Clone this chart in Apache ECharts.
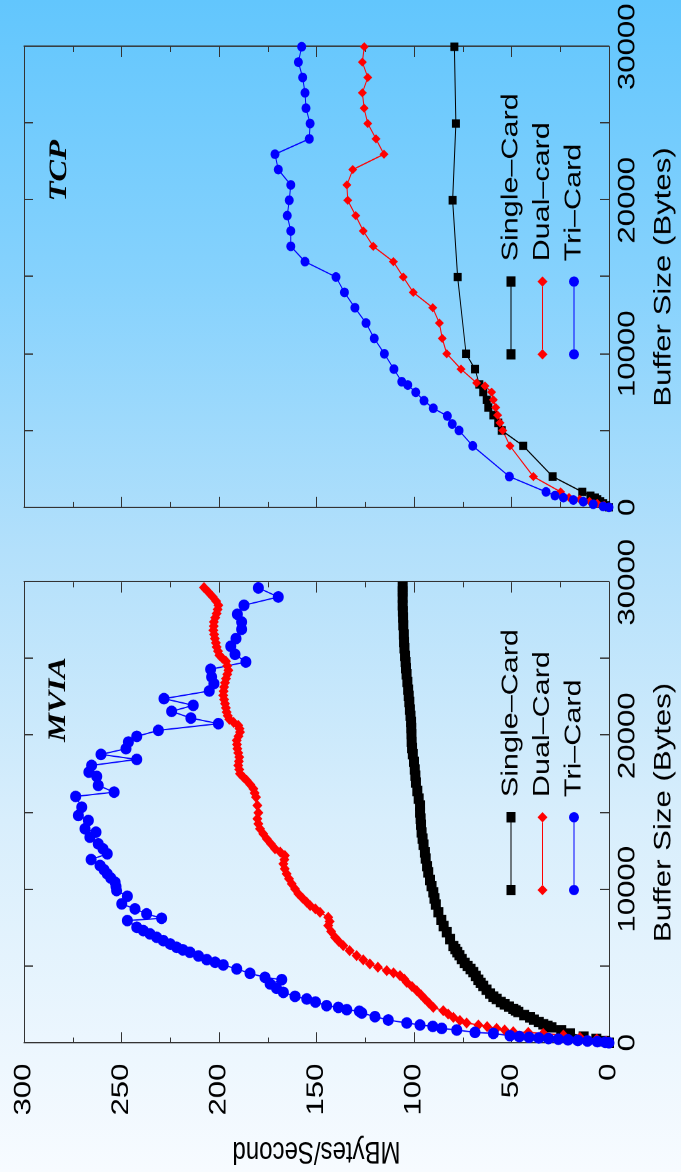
<!DOCTYPE html>
<html>
<head>
<meta charset="utf-8">
<script src="https://cdn.jsdelivr.net/npm/echarts@6.0.0/dist/echarts.min.js"></script>
<style>
html,body{margin:0;padding:0;}
body{width:681px;height:1172px;overflow:hidden;position:relative;
  background:linear-gradient(to bottom,#62c6fd 0%,#86d2fd 24%,#b3e0fb 47%,#d8eefc 70%,#f7fbff 100%);}
#chart{position:absolute;left:0;top:0;width:902px;height:681px;transform-origin:0 0;
  transform:translate(0px,1172px) rotate(-90deg) scaleX(1.299335);}
</style>
</head>
<body>
<div id="chart"></div>
<script>
// ---------------- data (Buffer Size in bytes, MBytes/Second) ----------------
const bufferTicks = [0, 10000, 20000, 30000];
const rateTicks = [0, 50, 100, 150, 200, 250, 300];

// MVIA
const mviaSingleBuf = [0,100,250,400,600,800,1000,1100,1200,1350,1500,1650,1800,2000,2100,2200,2350,2500,2650,2850,3000,3200,3450,3700,3900,4100,4350,4600,4800,5000,5200,5450,5700,5900,6100,6300,6750,7200,7600,8000,8500,9000,9400,9800,10200,10600,11100,11500,12000,12400,12900,13300,13700,14200,14600,15000,15450,15900,16400,16950,17400,17800,18300,18800,19200,19600,20100,20500,20900,21300,21700,22200,22600,23000,23500,24000,24400,24800,25200,25700,26100,26600,27200,27700,28100,28500,29000,29400,29700];
const mviaSingleRate = [0,2,6.5,13,20,24.5,29.5,31.5,33.7,36,38.5,40.5,43.5,46.5,47.8,49.1,51.3,53.5,55.5,57.6,59.3,61,62.8,64.5,65.8,67,68.3,69.6,71,72.5,74,75.5,76.7,77.8,78.8,79.8,81.5,83.2,84.8,86,87.5,88.8,89.5,90.1,91,91.8,92.7,93.3,94,94.4,95.1,95.6,96.1,96.4,96.6,96.9,96.9,97.6,98.3,99,99.3,99.6,100,100.6,101,101.2,101.3,101.4,101.5,101.8,102.1,102.4,102.7,103,103.4,103.8,104.1,104.3,104.6,104.9,105.1,105.2,105.5,105.6,105.7,105.8,105.8,105.8,105.8];

const mviaDualBuf = [0,100,240,350,500,607,672,717,830,933,1050,1154,1285,1450,1650,1870,2087,2302,2580,2850,3120,3391,3660,3933,4150,4370,4550,4696,4920,5133,5400,5674,6000,6326,6600,6868,7250,7631,7900,8172,8498,8720,8935,9150,9420,9698,10020,10350,10680,11001,11330,11654,11930,12196,12420,12633,12960,13285,13610,13937,14260,14590,14981,15457,15998,16270,16546,16820,17088,17300,17524,17800,18066,18330,18607,18880,19155,19430,19696,19970,20237,20460,20675,20870,21066,21300,21541,21815,22090,22360,22631,22900,23173,23450,23720,24000,24262,24550,24849,25040,25240,25510,25782,26050,26330,26600,26870,27140,27413,27690,27960,28230,28500,28770,29045,29350,29655];
const mviaDualRate = [0,1.5,6.3,14.9,23.4,33.7,41.4,49.1,53.5,57.6,62.5,67,73,76.5,79.8,82.5,85,90.1,92.3,94.4,96.4,98.6,101,103.7,105,107.2,110.5,114,118.5,122.6,126,129.4,133,136.3,138.6,140.5,142.5,144,143.3,144,148.2,150.6,153.3,155,157.2,159.3,161,162.7,164.1,165.3,166.3,167,166.5,166.2,168.6,171.3,173.4,175.5,177.3,179,179.8,180.3,179.8,180.3,181,181.7,182.4,184,185.8,187.5,189.2,189.6,190.1,189.8,189.6,190.1,190.6,190.8,190.9,190,189.2,189.5,190.1,192.5,194.7,195.5,196.1,196.5,196.9,197.4,197.8,197.6,197.4,196.9,196.4,195.8,195.2,195.8,196.4,198.2,199.8,200.5,201.2,201.6,202.1,202.5,202.9,202.7,202.6,201.9,201.2,200.7,200.3,201.5,203.2,205.4,207.7];

const mviaTriBuf = [0,30,70,110,150,190,230,270,310,350,400,457,607,672,828,933,1063,1154,1285,1480,1696,1937,2050,2152,2302,2413,2650,2850,3020,3280,3550,3828,4109,4259,4520,4807,5067,5240,5413,5650,5889,6050,6215,6430,6652,6870,7090,7300,7520,7957,8107,8394,8720,9046,9542,9913,10180,10455,10730,11001,11270,11544,11935,12305,12630,12957,13390,13716,13937,14479,14805,15346,16044,16325,16762,17349,17629,18066,18457,18783,19155,19586,19957,20349,20786,21150,21588,21980,22416,22913,23393,23826,24327,24804,25305,25827,26330,26935,27410,27915,28500,29040,29630];
const mviaTriRate = [0,2,6,11,16,21,26,31,36,41,46,50.8,59.3,68.7,78.1,85.8,90.4,96.9,103.7,113.2,120,126.8,128,134.5,138.8,144.8,150.5,155,161,167,170.5,173.8,167.8,176.4,184.1,190.9,197.8,202,206.3,210.5,214.9,218.5,221.7,225,228.6,232,235.4,238.8,242.2,247,229.4,237.1,243.1,249.9,247,252.5,252.8,253.3,255.5,257.3,259,261,265.6,257.3,259.5,261.9,266.2,263.1,268.7,267,272.1,270.4,273.5,253.8,261.9,262.7,266.7,265.3,242.2,260.5,247.7,246.5,242.2,231.1,200.3,214.4,224.3,213.2,228.2,205,202.6,203.8,204.3,186.2,191.8,194,191.3,188.4,188.4,190.6,187.2,169.6,179.8];

// TCP
const tcpSingleBuf = [0,128,256,384,512,625,750,1000,2000,4000,5000,5500,6000,6500,7000,7500,8000,9000,10000,15000,20000,25000,30000];
const tcpSingleRate = [0,1.5,3,4.5,6,7.2,9.5,13.7,28.9,44,55,56.8,59.3,61.9,62.7,64.5,66.5,68.7,73.3,77.6,80.2,78.5,79.3];

const tcpDualBuf = [0,128,256,384,512,640,1000,2000,4000,5000,5500,6000,6500,7000,7500,7900,8100,9000,10000,11000,12000,13000,14000,15000,16000,17000,18000,19000,20000,21000,22000,23000,24000,25000,26000,27000,28000,29000,30000];
const tcpDualRate = [0,2.5,6,10,15,20.5,24.8,38.8,50.8,54.5,55.9,57.1,58.1,59.3,60.2,63.6,67.9,75.9,83.2,85.5,87,90.4,100.4,105.5,110.6,120.9,126,129.9,134,134.4,131.4,115.4,119.5,123.7,125.6,126.5,123.7,126.5,125.5];

const tcpTriBuf = [0,50,195,365,475,625,755,1000,2000,4000,5000,5425,5946,6448,6943,7490,7965,8180,9000,10000,11000,12000,13000,14000,15000,16000,17000,18000,19000,20000,21000,22000,23000,24000,25000,26000,27000,28000,29000,30000];
const tcpTriRate = [0,3,8.1,13.2,18.3,23.4,27.7,32.3,51.1,69.9,76.9,80.4,82.9,90.1,94.9,99.1,103.2,106.3,110.3,115.2,120.4,124.6,130.3,135.7,140,155.9,163.2,163.2,165,164,163.2,169.6,171.3,153.7,153.3,155.4,155.9,157.1,159.3,157.6];

const mviaNames = ['Single\u2013Card', 'Dual\u2013Card', 'Tri\u2013Card'];
const tcpNames = ['Single\u2013Card', 'Dual\u2013card', 'Tri\u2013Card'];
const panelTitles = ['MVIA', 'TCP'];

// ---------------- chart ----------------
const SANS = "'Liberation Sans', Arial, Helvetica, sans-serif";
const SERIF = "'Liberation Serif', 'Times New Roman', serif";
const FRAME = '#333';

function pairs(b, r) { return b.map((x, i) => [x, r[i]]); }

const SQ = 'path://M0,0h8v9h-8zM8,4h48v1h-48zM56,0h8v9h-8z';
const DI = 'path://M4,0L8,5L4,10L0,5zM8,4.5h48v1h-48zM60,0L64,5L60,10L56,5z';
const CI = 'path://M0,5A4,5,0,1,1,8,5A4,5,0,1,1,0,5zM8,4.5h48v1h-48zM56,5A4,5,0,1,1,64,5A4,5,0,1,1,56,5z';
const icons = [SQ, DI, CI];

function bufAxis(gi, pos, labels) {
  return {
    type: 'value', gridIndex: gi, position: pos, min: 0, max: 30000, interval: 5000,
    axisLine: { show: true, onZero: false, lineStyle: { color: FRAME, width: 1 } },
    axisTick: { show: true, inside: true, length: 9, lineStyle: { color: FRAME, width: 1 } },
    splitLine: { show: false },
    axisLabel: labels ? {
      show: true, margin: 7, color: '#000', fontFamily: SANS, fontSize: 24,
      showMinLabel: true, showMaxLabel: true,
      formatter: v => (bufferTicks.indexOf(v) >= 0 ? String(v) : '')
    } : { show: false },
    name: labels ? 'Buffer Size (Bytes)' : '',
    nameLocation: 'middle', nameGap: 43,
    nameTextStyle: { color: '#000', fontFamily: SANS, fontSize: 24 }
  };
}
function rateAxis(gi, pos, labels, withName) {
  return {
    type: 'value', gridIndex: gi, position: pos, min: 0, max: 300, interval: 50,
    axisLine: { show: true, onZero: false, lineStyle: { color: FRAME, width: 1 } },
    axisTick: { show: true, inside: true, length: 8, lineStyle: { color: FRAME, width: 1 } },
    minorTick: { show: true, splitNumber: 2, length: 4, lineStyle: { color: FRAME, width: 1 } },
    splitLine: { show: false }, minorSplitLine: { show: false },
    axisLabel: labels ? {
      show: true, margin: 16, color: '#000', fontFamily: SANS, fontSize: 24,
      formatter: v => (rateTicks.indexOf(v) >= 0 ? String(v) : '')
    } : { show: false },
    name: withName ? 'MBytes/Second' : '',
    nameLocation: 'middle', nameGap: 71,
    nameTextStyle: { color: '#000', fontFamily: SANS, fontSize: 24 }
  };
}
function mk(name, buf, rate, gi, sym, size, color) {
  return {
    name, type: 'line', xAxisIndex: gi, yAxisIndex: gi, data: pairs(buf, rate),
    symbol: sym, symbolSize: size, showSymbol: true, showAllSymbol: true, clip: false,
    lineStyle: { width: 1, color: color }, itemStyle: { color: color, borderWidth: 0 },
    emphasis: { disabled: true }, animation: false
  };
}
function legendFor(names, left) {
  return {
    orient: 'vertical', left: left, top: 499, padding: 0,
    itemWidth: 64, itemHeight: 10, itemGap: 7.5, selectedMode: false,
    formatter: ' {name}',
    textStyle: { fontFamily: SANS, fontSize: 23.5, color: '#000' },
    data: names.map((n, i) => ({ name: n, icon: icons[i] }))
  };
}
const titleStyle = { fontFamily: SERIF, fontStyle: 'italic', fontWeight: 'bold', fontSize: 25, color: '#000' };

const chart = echarts.init(document.getElementById('chart'), null, { renderer: 'canvas', devicePixelRatio: 2 });
chart.setOption({
  backgroundColor: 'transparent',
  animation: false,
  title: [
    { text: panelTitles[0], left: 331, top: 46, padding: 0, textStyle: titleStyle },
    { text: panelTitles[1], left: 747, top: 47, padding: 0, textStyle: titleStyle }
  ],
  legend: [legendFor(mviaNames, 213), legendFor(tcpNames, 625.3)],
  grid: [
    { left: 99.5, top: 24, width: 354.4, height: 585, containLabel: false, outerBoundsMode: 'none' },
    { left: 511.6, top: 24, width: 354.4, height: 585, containLabel: false, outerBoundsMode: 'none' }
  ],
  xAxis: [bufAxis(0, 'bottom', true), bufAxis(1, 'bottom', true), bufAxis(0, 'top', false), bufAxis(1, 'top', false)],
  yAxis: [rateAxis(0, 'left', true, true), rateAxis(1, 'left', false, false), rateAxis(0, 'right', false, false), rateAxis(1, 'right', false, false)],
  series: [
    mk(mviaNames[0], mviaSingleBuf, mviaSingleRate, 0, 'rect', [8, 10], '#000000'),
    mk(mviaNames[1], mviaDualBuf, mviaDualRate, 0, 'diamond', [8.5, 10], '#ff0000'),
    mk(mviaNames[2], mviaTriBuf, mviaTriRate, 0, 'circle', [9, 11], '#0000ff'),
    mk(tcpNames[0], tcpSingleBuf, tcpSingleRate, 1, 'rect', [6.5, 8], '#000000'),
    mk(tcpNames[1], tcpDualBuf, tcpDualRate, 1, 'diamond', [7, 9], '#ff0000'),
    mk(tcpNames[2], tcpTriBuf, tcpTriRate, 1, 'circle', [7.5, 9], '#0000ff')
  ]
});
</script>
</body>
</html>
